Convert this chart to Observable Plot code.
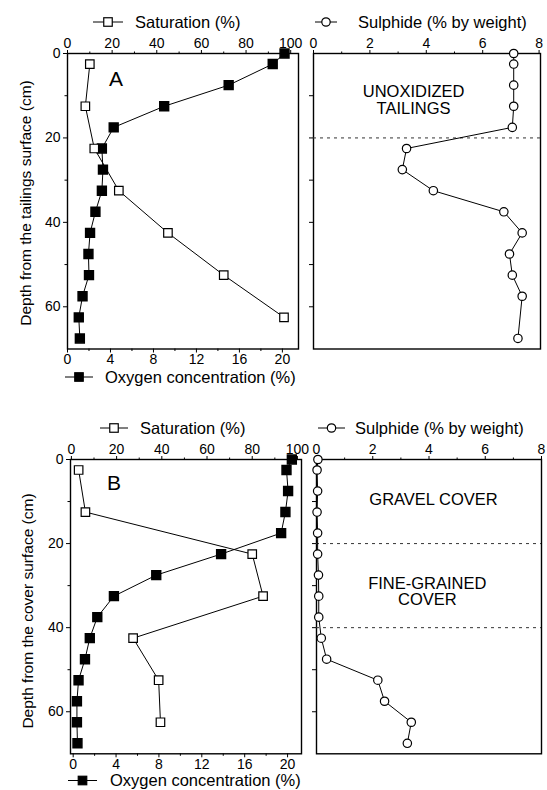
<!DOCTYPE html>
<html><head><meta charset="utf-8">
<script src="https://cdn.jsdelivr.net/npm/d3@7"></script>
<script src="https://cdn.jsdelivr.net/npm/@observablehq/plot@0.6"></script>
<style>
body{margin:0;background:#fff;}
#chart{position:relative;width:547px;height:790px;overflow:hidden;font-family:"Liberation Sans",Arial,Helvetica,sans-serif;}
#chart svg{position:absolute;left:0;top:0;}
</style></head><body><div id="chart"></div>
<script>
// ---------- Panel A (tailings) ----------
const satDepthA = [2.5,12.5,22.5,32.5,42.5,52.5,62.5];
const satA      = [10,8,12,23,45,70,97];
const o2DepthA  = [0,2.5,7.5,12.5,17.5,22.5,27.5,32.5,37.5,42.5,47.5,52.5,57.5,62.5,67.5];
const o2A       = [20.2,19.1,15.0,9.0,4.3,3.2,3.3,3.2,2.6,2.1,1.95,2.0,1.4,1.05,1.15];
const sulDepthA = [0,2.5,7.5,12.5,17.5,22.5,27.5,32.5,37.5,42.5,47.5,52.5,57.5,67.5];
const sulA      = [7.1,7.1,7.1,7.1,7.05,3.3,3.15,4.25,6.75,7.4,6.95,7.05,7.4,7.25];
const boundariesA = [20];
const zoneLabelsA = ["UNOXIDIZED\nTAILINGS"];
const zoneLabelXA = [3.55];
const zoneLabelYA = [11.05];

// ---------- Panel B (cover) ----------
const satDepthB = [2.5,12.5,22.5,32.5,42.5,52.5,62.5];
const satB      = [3.2,6.2,80,84.8,27.3,38.6,39.4];
const o2DepthB  = [0,2.5,7.5,12.5,17.5,22.5,27.5,32.5,37.5,42.5,47.5,52.5,57.5,62.5,67.5];
const o2B       = [20.4,19.9,20.05,19.8,19.4,13.8,7.75,3.8,2.25,1.55,1.1,0.5,0.35,0.35,0.4];
const sulDepthB = [0,2.5,7.5,12.5,17.5,22.5,27.5,32.5,37.5,42.5,47.5,52.5,57.5,62.5,67.5];
const sulB      = [0.05,0.02,0.04,0.02,0.04,0.04,0.07,0.08,0.08,0.17,0.36,2.18,2.42,3.37,3.23];
const boundariesB = [20,40];
const zoneLabelsB = ["GRAVEL COVER","FINE-GRAINED\nCOVER"];
const zoneLabelXB = [4.16,3.94];
const zoneLabelYB = [9.45,31.5];

// ---------- ticks & texts ----------
const satTicks = [0,20,40,60,80,100], satMinor = [10,30,50,70,90];
const o2Ticks = [0,4,8,12,16,20], o2Minor = [2,6,10,14,18];
const sulTicks = [0,2,4,6,8], sulMinor = [1,3,5,7];
const depthTicks = [0,20,40,60], depthMinor = [10,30,50], depthRight = [10,20,30,40,50,60];
const satLabel = "Saturation (%)";
const o2Label = "Oxygen concentration (%)";
const sulLabel = "Sulphide (% by weight)";
const depthLabelA = "Depth from the tailings surface (cm)";
const depthLabelB = "Depth from the cover surface (cm)";

const W = 547, H = 790;
const FONT = "Liberation Sans, Arial, Helvetica, sans-serif";
const chart = document.getElementById("chart");

function rows(xs, ys){ return xs.map((v,i)=>({x:v, y:ys[i]})); }

function panel(frame, xdom, yaxis, marks){
  const [l,t,r,b] = frame;
  return Plot.plot({
    width: W, height: H,
    marginLeft: l, marginTop: t, marginRight: W - r, marginBottom: H - b,
    x: {domain: xdom},
    y: {domain: [0,70], reverse: true, axis: yaxis ? undefined : null},
    style: {background: "transparent", fontFamily: FONT, fontSize: "14px", color: "black", overflow: "visible"},
    marks
  });
}
const empty = () => "";

function leftPanels(frame, o2dom, satdom, o2Data, satData){
  const oxy = panel(frame, o2dom, true, [
    Plot.axisX(o2Ticks, {anchor:"bottom", tickSize:4, tickPadding:1.5, label:null}),
    Plot.axisX(o2Minor, {anchor:"bottom", tickSize:2.5, tickFormat: empty, label:null}),
    Plot.axisY(depthTicks, {anchor:"left", tickSize:4, tickPadding:3, label:null}),
    Plot.axisY(depthMinor, {anchor:"left", tickSize:2.5, tickFormat: empty, label:null}),
    Plot.frame({stroke:"black", strokeWidth:1.4}),
    Plot.line(o2Data, {x:"x", y:"y", stroke:"black", strokeWidth:1}),
    Plot.dot(o2Data, {x:"x", y:"y", symbol:"square", r:5, fill:"black", stroke:"black"})
  ]);
  const sat = panel(frame, satdom, false, [
    Plot.axisX(satTicks, {anchor:"top", tickSize:4, tickPadding:2, label:null}),
    Plot.axisX(satMinor, {anchor:"top", tickSize:2.5, tickFormat: empty, label:null}),
    Plot.line(satData, {x:"x", y:"y", stroke:"black", strokeWidth:1}),
    Plot.dot(satData, {x:"x", y:"y", symbol:"square", r:4.8, fill:"white", stroke:"black", strokeWidth:1.2})
  ]);
  chart.append(oxy, sat);
}

function rightPanel(frame, sdom, data, bounds, labels, lx, ly){
  const lab = labels.map((s,i)=>({s, x:lx[i], y:ly[i]}));
  const p = panel(frame, sdom, true, [
    Plot.axisX(sulTicks, {anchor:"top", tickSize:4, tickPadding:2, label:null}),
    Plot.axisX(sulMinor, {anchor:"top", tickSize:2.5, tickFormat: empty, label:null}),
    Plot.axisY(depthRight, {anchor:"left", tickSize:4, tickFormat: empty, label:null}),
    Plot.frame({stroke:"black", strokeWidth:1.4}),
    Plot.ruleY(bounds, {stroke:"#333", strokeWidth:1, strokeDasharray:"3,4"}),
    Plot.text(lab, {x:"x", y:"y", text:"s", fontSize:16.5, lineHeight:1.0, fill:"black"}),
    Plot.line(data, {x:"x", y:"y", stroke:"black", strokeWidth:1}),
    Plot.dot(data, {x:"x", y:"y", r:4.2, fill:"white", stroke:"black", strokeWidth:1.2})
  ]);
  chart.append(p);
}

leftPanels([67,53,298,348.5], [0,21.5], [0,103.5], rows(o2A,o2DepthA), rows(satA,satDepthA));
rightPanel([313,53,540,348.5], [0,8.05], rows(sulA,sulDepthA), boundariesA, zoneLabelsA, zoneLabelXA, zoneLabelYA);
leftPanels([70,459,301,753.3], [-0.25,21.3], [-0.4,101.8], rows(o2B,o2DepthB), rows(satB,satDepthB));
rightPanel([316,459,541,753.3], [0,8], rows(sulB,sulDepthB), boundariesB, zoneLabelsB, zoneLabelXB, zoneLabelYB);

// ---------- legends / labels overlay ----------
const svg = d3.select(chart).append("svg").attr("width", W).attr("height", H)
  .style("font-family", FONT);
function legend(x1, x2, y, kind, tx, label){
  svg.append("line").attr("x1", x1).attr("x2", x2).attr("y1", y).attr("y2", y).attr("stroke","black").attr("stroke-width",1);
  const cx = (x1+x2)/2;
  if (kind === "circle") svg.append("circle").attr("cx",cx).attr("cy",y).attr("r",4.2).attr("fill","white").attr("stroke","black").attr("stroke-width",1.2);
  else {
    const s = 8.5;
    svg.append("rect").attr("x",cx-s/2).attr("y",y-s/2).attr("width",s).attr("height",s)
      .attr("fill", kind==="filled" ? "black" : "white").attr("stroke","black").attr("stroke-width",1.2);
  }
  svg.append("text").attr("x",tx).attr("y",y).attr("dy","0.36em").attr("font-size",16.5).text(label);
}
legend(93,123,22,"open",135,satLabel);
legend(315,337,22,"circle",358,sulLabel);
legend(65,93,377,"filled",105,o2Label);
legend(100,128,428,"open",140,satLabel);
legend(318,345,428,"circle",355,sulLabel);
legend(68,97,780.5,"filled",110,o2Label);

function ytitle(x, y, label){
  svg.append("text").attr("transform",`translate(${x},${y}) rotate(-90)`).attr("text-anchor","middle")
    .attr("dy","0.36em").attr("font-size",15.5).text(label);
}
ytitle(25,203,depthLabelA);
ytitle(27,611,depthLabelB);
svg.append("text").attr("x",116).attr("y",78).attr("dy","0.36em").attr("text-anchor","middle").attr("font-size",21).text("A");
svg.append("text").attr("x",114).attr("y",482).attr("dy","0.36em").attr("text-anchor","middle").attr("font-size",21).text("B");
</script></body></html>
